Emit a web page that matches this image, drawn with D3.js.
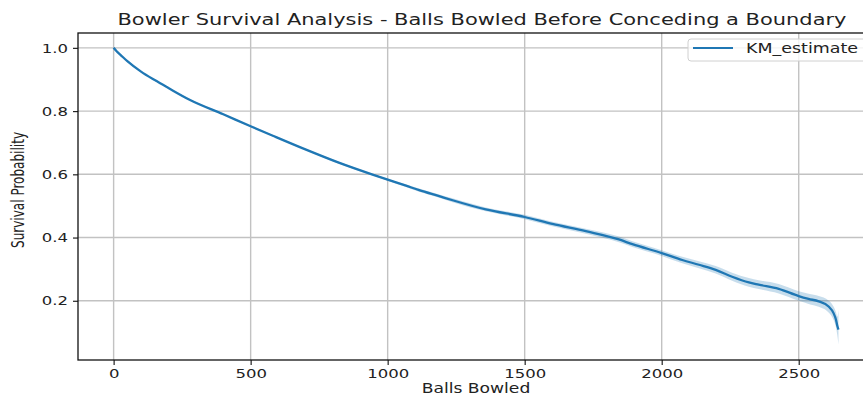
<!DOCTYPE html>
<html>
<head>
<meta charset="utf-8">
<script src="https://cdn.jsdelivr.net/npm/d3@7"></script>
<style>
  html, body { margin: 0; padding: 0; background: #ffffff; }
  svg { display: block; }
  text { font-family: "DejaVu Sans", sans-serif; fill: #222; }
</style>
</head>
<body>
<svg id="chart" width="863" height="396"></svg>
<script>
// Kaplan–Meier survival estimate: balls bowled before conceding a boundary
const ballsBowled = [0, 10, 25, 50, 100, 150, 200, 277, 400, 500, 581, 702, 824, 945, 1000,
  1067, 1115, 1188, 1237, 1358, 1500, 1601, 1723, 1844, 1893, 2000, 2075, 2136, 2197, 2257,
  2318, 2354, 2427, 2500, 2536, 2573, 2609, 2627, 2636, 2641, 2645];
const kmEstimate = [1.0, 0.990, 0.978, 0.958, 0.925, 0.898, 0.873, 0.836, 0.790, 0.752, 0.722, 0.678, 0.636, 0.599, 0.583,
  0.564, 0.550, 0.531, 0.518, 0.489, 0.465, 0.443, 0.420, 0.394, 0.379, 0.351, 0.329, 0.314, 0.298, 0.276,
  0.258, 0.251, 0.238, 0.215, 0.206, 0.198, 0.182, 0.161, 0.140, 0.120, 0.109];
const ciLower = [1.0, 0.989, 0.977, 0.957, 0.924, 0.896, 0.871, 0.834, 0.788, 0.750, 0.720, 0.676, 0.633, 0.596, 0.580,
  0.560, 0.545, 0.526, 0.512, 0.483, 0.458, 0.436, 0.412, 0.385, 0.370, 0.342, 0.319, 0.303, 0.286, 0.263,
  0.244, 0.237, 0.223, 0.200, 0.190, 0.181, 0.163, 0.140, 0.116, 0.090, 0.062];
const ciUpper = [1.0, 0.991, 0.979, 0.959, 0.926, 0.900, 0.875, 0.838, 0.792, 0.754, 0.724, 0.680, 0.639, 0.602, 0.586,
  0.568, 0.555, 0.536, 0.524, 0.495, 0.472, 0.450, 0.428, 0.403, 0.388, 0.360, 0.339, 0.325, 0.310, 0.289,
  0.272, 0.265, 0.253, 0.230, 0.222, 0.215, 0.201, 0.182, 0.164, 0.150, 0.172];
const xTicks = [0, 500, 1000, 1500, 2000, 2500];
const yTicks = [0.2, 0.4, 0.6, 0.8, 1.0];

const svg = d3.select("#chart");
const plot = { left: 78, right: 876, top: 33, bottom: 360 };
const WIDEN = 1.27; // horizontal stretch of the lettering

const x = d3.scaleLinear().domain([-130, 2782]).range([plot.left, plot.right]);
const y = d3.scaleLinear().domain([0.0127, 1.047]).range([plot.bottom, plot.top]);

// stretch a horizontal label so it reads wide
function widen(sel, target) {
  sel.each(function () {
    const len = this.getComputedTextLength();
    d3.select(this)
      .attr("textLength", target || len * WIDEN)
      .attr("lengthAdjust", "spacingAndGlyphs");
  });
}

svg.append("clipPath").attr("id", "plot-clip")
  .append("rect")
  .attr("x", plot.left).attr("y", plot.top)
  .attr("width", plot.right - plot.left).attr("height", plot.bottom - plot.top);

// grid
const grid = svg.append("g");
grid.selectAll("line.gx").data(xTicks).join("line")
  .attr("x1", d => x(d)).attr("x2", d => x(d))
  .attr("y1", plot.top).attr("y2", plot.bottom)
  .attr("stroke", "#c2c2c2").attr("stroke-width", 1.4);
grid.selectAll("line.gy").data(yTicks).join("line")
  .attr("x1", plot.left).attr("x2", plot.right)
  .attr("y1", d => y(d)).attr("y2", d => y(d))
  .attr("stroke", "#c2c2c2").attr("stroke-width", 1.4);

const rows = ballsBowled.map((b, i) => ({ b, s: kmEstimate[i], lo: ciLower[i], hi: ciUpper[i] }));

const body = svg.append("g").attr("clip-path", "url(#plot-clip)");
body.append("path")
  .datum(rows)
  .attr("fill", "#1f77b4").attr("fill-opacity", 0.25)
  .attr("d", d3.area().curve(d3.curveMonotoneX).x(d => x(d.b)).y0(d => y(d.lo)).y1(d => y(d.hi)));
body.append("path")
  .datum(rows)
  .attr("fill", "none").attr("stroke", "#1f77b4").attr("stroke-width", 2.3)
  .attr("d", d3.line().curve(d3.curveMonotoneX).x(d => x(d.b)).y(d => y(d.s)));

// axes
const xAxis = svg.append("g").attr("transform", `translate(0,${plot.bottom})`)
  .call(d3.axisBottom(x).tickValues(xTicks).tickFormat(d3.format("d")).tickSizeOuter(0).tickSize(5).tickPadding(4));
const yAxis = svg.append("g").attr("transform", `translate(${plot.left},0)`)
  .call(d3.axisLeft(y).tickValues(yTicks).tickFormat(d3.format(".1f")).tickSizeOuter(0).tickSize(5).tickPadding(5));
[xAxis, yAxis].forEach(g => {
  g.select(".domain").remove();
  g.selectAll(".tick line").attr("stroke", "#222").attr("stroke-width", 1.2);
  g.selectAll(".tick text").attr("font-size", 13).attr("font-family", "DejaVu Sans").attr("fill", "#222");
  widen(g.selectAll(".tick text"));
});

// spines
svg.append("rect")
  .attr("x", plot.left).attr("y", plot.top)
  .attr("width", plot.right - plot.left).attr("height", plot.bottom - plot.top)
  .attr("fill", "none").attr("stroke", "#111").attr("stroke-width", 1.3);

// titles
svg.append("text")
  .attr("x", 482).attr("y", 25).attr("text-anchor", "middle")
  .attr("font-size", 16.5)
  .text("Bowler Survival Analysis - Balls Bowled Before Conceding a Boundary")
  .call(widen, 729);
svg.append("text")
  .attr("x", 476).attr("y", 393).attr("text-anchor", "middle")
  .attr("font-size", 13.5)
  .text("Balls Bowled")
  .call(widen);
svg.append("text")
  .attr("transform", `translate(24,190) scale(${WIDEN},1) rotate(-90)`)
  .attr("text-anchor", "middle")
  .attr("font-size", 13.5)
  .style("font-family", "'Liberation Sans Narrow', 'DejaVu Sans Condensed', sans-serif")
  .text("Survival Probability")
  .call(widen, 116);

// legend
const legend = svg.append("g");
legend.append("rect")
  .attr("x", 688).attr("y", 39).attr("width", 180).attr("height", 22).attr("rx", 3)
  .attr("fill", "#fff").attr("fill-opacity", 0.8).attr("stroke", "#d0d0d0");
legend.append("line")
  .attr("x1", 693).attr("x2", 733).attr("y1", 48).attr("y2", 48)
  .attr("stroke", "#1f77b4").attr("stroke-width", 2);
legend.append("text")
  .attr("x", 746).attr("y", 53).attr("font-size", 13.5)
  .text("KM_estimate")
  .call(widen, 112);
</script>
</body>
</html>
